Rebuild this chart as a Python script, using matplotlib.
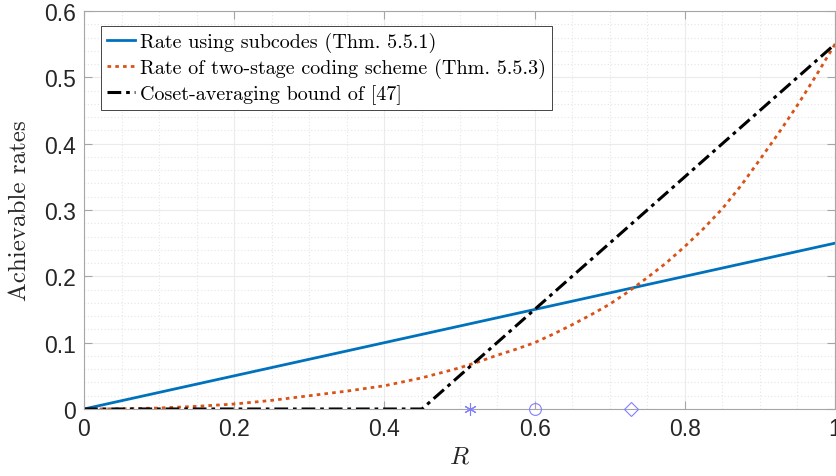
import matplotlib
matplotlib.use("Agg")
import matplotlib.pyplot as plt
from matplotlib.ticker import MultipleLocator

# ---- data ----
R_sub = [0.0, 1.0]
rate_sub = [0.0, 0.25]

R_two = [0.0, 0.05, 0.1, 0.15, 0.2, 0.25, 0.3, 0.35, 0.4, 0.45, 0.5,
         0.525, 0.55, 0.575, 0.6, 0.625, 0.65, 0.675, 0.7, 0.725, 0.75,
         0.775, 0.8, 0.825, 0.85, 0.875, 0.9, 0.925, 0.95, 0.975, 1.0]
rate_two = [0.0, 0.0003, 0.0015, 0.004, 0.0075, 0.013, 0.020, 0.027, 0.035,
            0.047, 0.062, 0.071, 0.081, 0.090, 0.100, 0.113, 0.127, 0.142,
            0.158, 0.177, 0.198, 0.220, 0.245, 0.272, 0.302, 0.337, 0.376,
            0.416, 0.458, 0.503, 0.55]

R_coset = [0.0, 0.45, 1.0]
rate_coset = [0.0, 0.0, 0.55]

marker_R = [0.514, 0.6, 0.728]
marker_y = [0.0, 0.0, 0.0]

legend_labels = ["Rate using subcodes (Thm. 5.5.1)",
                 "Rate of two-stage coding scheme (Thm. 5.5.3)",
                 "Coset-averaging bound of [47]"]

xticks = [0, 0.2, 0.4, 0.6, 0.8, 1]
xticklabels = ["0", "0.2", "0.4", "0.6", "0.8", "1"]
yticks = [0, 0.1, 0.2, 0.3, 0.4, 0.5, 0.6]
yticklabels = ["0", "0.1", "0.2", "0.3", "0.4", "0.5", "0.6"]

# ---- figure ----
plt.rcParams["mathtext.fontset"] = "cm"
fig = plt.figure(figsize=(8.36, 4.77), dpi=100)
ax = fig.add_axes([84/836, 1 - 410/477, 751/836, 398/477])

ax.plot(R_sub, rate_sub, color="#0072BD", lw=2.0, label=legend_labels[0])
ax.plot(R_two, rate_two, color="#D95319", lw=2.0,
        linestyle=(0, (1.3, 1.5)), dash_capstyle="butt",
        label=legend_labels[1])
ax.plot(R_coset, rate_coset, color="black", lw=2.2,
        linestyle=(0, (4.5, 1.6, 1.2, 1.6)), label=legend_labels[2])

mk_color = "#8080ff"
ax.plot([marker_R[0]], [marker_y[0]], marker=(6, 2, 0), markersize=9,
        markeredgecolor=mk_color, markerfacecolor="none",
        markeredgewidth=0.8, linestyle="none", clip_on=False, zorder=5)
ax.plot([marker_R[1]], [marker_y[1]], marker="o", markersize=8.5,
        markeredgecolor=mk_color, markerfacecolor="none",
        markeredgewidth=0.8, linestyle="none", clip_on=False, zorder=5)
ax.plot([marker_R[2]], [marker_y[2]], marker="D", markersize=7,
        markeredgecolor=mk_color, markerfacecolor="none",
        markeredgewidth=0.8, linestyle="none", clip_on=False, zorder=5)

ax.set_xlim(0, 1)
ax.set_ylim(0, 0.6)
ax.set_xticks(xticks)
ax.set_xticklabels(xticklabels)
ax.set_yticks(yticks)
ax.set_yticklabels(yticklabels)
ax.xaxis.set_minor_locator(MultipleLocator(0.05))
ax.yaxis.set_minor_locator(MultipleLocator(0.02))

ax.grid(which="major", color="#ebebeb", lw=0.8, linestyle="-")
ax.grid(which="minor", color="#e6e6e6", lw=0.8, linestyle=(0, (1, 2)))
ax.set_axisbelow(True)

for sp in ax.spines.values():
    sp.set_color("#a6a6a6")
    sp.set_linewidth(0.8)
ax.tick_params(which="major", direction="in", length=6, width=0.8,
               color="#a6a6a6", top=True, right=True, labelsize=16.5,
               labelcolor="#262626", pad=6)
ax.tick_params(which="minor", length=0, top=True, right=True)
for lab in ax.get_xticklabels() + ax.get_yticklabels():
    lab.set_family("Liberation Sans")

ax.set_xlabel("$R$", fontsize=18, color="#262626", labelpad=2)
ax.set_ylabel("Achievable rates", family="cmr10", fontsize=18,
              color="#262626", labelpad=9)

leg = ax.legend(loc="upper left", bbox_to_anchor=(0.0226, 0.962),
                prop={"family": "cmr10", "size": 14.5}, frameon=True,
                fancybox=False, edgecolor="#262626", framealpha=1,
                borderaxespad=0, handlelength=1.4, handletextpad=0.25,
                labelspacing=0.3, borderpad=0.3)
leg.get_frame().set_linewidth(0.6)

fig.savefig("out.png", dpi=100)
